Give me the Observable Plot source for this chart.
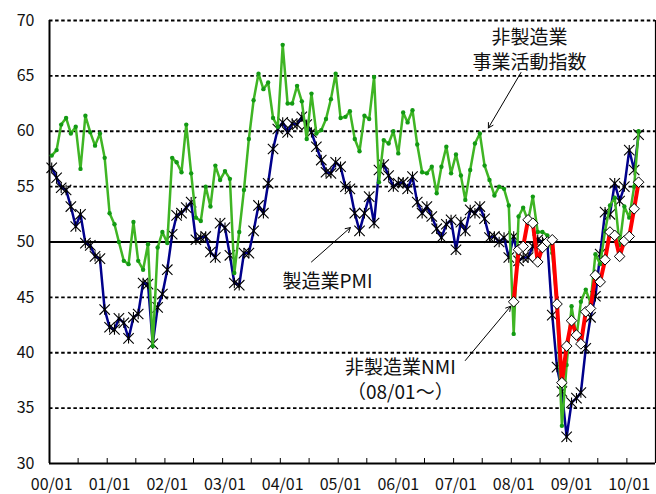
<!DOCTYPE html>
<html>
<head>
<meta charset="utf-8">
<script src="https://cdn.jsdelivr.net/npm/d3@7"></script>
<script src="https://cdn.jsdelivr.net/npm/@observablehq/plot@0.6"></script>
<style>
  html, body { margin: 0; padding: 0; background: #fff; }
  #chart { width: 656px; height: 494px; }
</style>
</head>
<body>
<div id="chart"></div>
<script>
// ---- Data (monthly) ----
const seriesStart = "2000-01-01";   // first month of PMI / business activity series
const nmiStart = "2008-01-01";      // first month of NMI series

// 製造業PMI (Jan 2000 – Mar 2010)
const pmi = [
  56.7, 55.8, 54.9, 54.7, 53.2, 51.4, 52.5, 49.9, 49.7, 48.7, 48.5, 43.9,
  42.3, 42.1, 43.1, 42.7, 41.3, 43.2, 43.5, 46.3, 46.2, 40.8, 44.1, 45.3,
  47.5, 50.7, 52.4, 52.6, 53.1, 53.6, 50.2, 50.4, 50.5, 49.1, 48.6, 51.7,
  51.3, 48.8, 46.3, 46.1, 49.0, 49.0, 51.0, 53.3, 52.6, 55.3, 58.4, 60.2,
  60.8, 59.9, 60.7, 60.6, 61.3, 60.6, 59.9, 58.6, 57.4, 56.3, 56.2, 57.2,
  56.8, 55.0, 54.8, 52.6, 51.0, 52.6, 54.1, 51.7, 56.5, 57.0, 56.0, 55.0,
  55.3, 55.4, 54.8, 55.9, 53.6, 52.6, 53.2, 52.3, 51.2, 50.4, 51.6, 52.0,
  49.3, 51.8, 51.0, 52.9, 52.6, 53.2, 52.1, 50.4, 50.5, 50.0, 50.4, 48.6,
  50.5, 48.3, 48.6, 48.6, 49.6, 50.2, 50.0, 49.9, 43.4, 38.7, 36.5, 32.4,
  35.5, 35.9, 36.4, 40.4, 43.2, 45.1, 48.9, 52.7, 52.5, 55.3, 53.7, 55.0,
  58.3, 56.5, 59.7
];

// 非製造業 事業活動指数 (Jan 2000 – Mar 2010)
const nonmfgActivity = [
  57.8, 58.3, 60.6, 61.2, 59.8, 60.4, 56.6, 61.4, 59.9, 58.7, 59.8, 57.6,
  52.6, 51.6, 50.0, 48.3, 48.0, 51.8, 48.3, 47.5, 49.8, 40.6, 49.5, 50.9,
  49.9, 57.6, 57.2, 56.3, 60.6, 56.2, 52.2, 51.9, 55.0, 53.2, 56.9, 55.6,
  56.4, 55.7, 47.2, 50.9, 54.7, 59.3, 62.8, 65.2, 63.8, 64.4, 61.2, 60.4,
  67.8, 62.5, 62.5, 64.1, 62.7, 59.3, 63.4, 59.8, 60.1, 61.1, 62.9, 65.2,
  61.2, 61.3, 61.8, 59.3, 58.2, 61.4, 61.1, 64.9, 55.4, 59.2, 58.9, 60.0,
  58.0, 61.7, 60.8, 61.9, 58.8, 56.3, 56.2, 56.8, 54.4, 56.8, 58.6, 56.2,
  57.9, 56.0, 53.8, 56.5, 58.9, 59.8, 56.9, 55.6, 54.2, 55.0, 54.8, 53.3,
  41.7, 52.3, 53.1, 51.9, 54.1, 50.9, 50.9, 50.6, 49.0, 44.2, 33.4, 38.9,
  44.2, 41.4, 44.6, 45.7, 44.5, 48.9, 48.0, 51.0, 53.3, 54.0, 49.7, 53.2,
  52.2, 55.0, 60.0
];

// 非製造業NMI (Jan 2008 – Mar 2010)
const nmi = [
  44.6, 49.3, 49.6, 52.0, 51.7, 48.2, 49.5, 50.0, 50.2, 44.4, 37.3, 40.6,
  42.9, 41.6, 40.8, 43.7, 44.0, 47.0, 46.4, 48.4, 50.9, 50.6, 48.7, 50.1,
  50.5, 53.0, 55.4
];

// Axis
const xDomain = ["1999-12-18", "2010-06-16"];
const yTicks = [30, 35, 40, 45, 50, 55, 60, 65, 70];
const dashedGrid = [35, 40, 45, 55, 60, 65, 70];
const solidGrid = [50];
const xLabelYears = ["2000","2001","2002","2003","2004","2005","2006","2007","2008","2009","2010"];

// Annotations (data coordinates)
const noteActivity = [{date: "2008-04-10", value: 67.5, text: "非製造業\n事業活動指数"}];
const notePmi = [{date: "2004-10-11", value: 46.4, text: "製造業PMI"}];
const noteNmi = [{date: "2006-01-14", value: 37.65, text: "非製造業NMI\n（08/01～）"}];
const arrows = [
  {d1: "2008-02-16", v1: 65.3, d2: "2007-07-25", v2: 60.3},
  {d1: "2004-07-01", v1: 48.2, d2: "2005-03-04", v2: 51.3},
  {d1: "2007-03-01", v1: 39.3, d2: "2007-12-13", v2: 44.2}
];

// ---- Build tables ----
const months = d3.utcMonths(new Date(seriesStart), d3.utcMonth.offset(new Date(seriesStart), pmi.length));
const pmiData = pmi.map((v, i) => ({date: months[i], value: v}));
const actData = nonmfgActivity.map((v, i) => ({date: months[i], value: v}));
const nmiMonths = d3.utcMonths(new Date(nmiStart), d3.utcMonth.offset(new Date(nmiStart), nmi.length));
const nmiData = nmi.map((v, i) => ({date: nmiMonths[i], value: v}));

const janDates = xLabelYears.map(y => new Date(`${y}-01-01`));
const tickMarkDates = d3.utcMonths(new Date("2000-07-01"), new Date("2010-02-01"), 6)
  .map(d => d3.utcDay.offset(d, -15));

const toDate = arr => arr.map(n => ({...n, date: new Date(n.date)}));
const arrowData = arrows.map(a => ({...a, d1: new Date(a.d1), d2: new Date(a.d2)}));

// Custom marker symbols
const starSymbol = {
  draw(context, size) {
    const s = Math.sqrt(size / Math.PI);
    context.moveTo(-s, -s); context.lineTo(s, s);
    context.moveTo(-s, s); context.lineTo(s, -s);
    context.moveTo(0, -s); context.lineTo(0, s);
  }
};
const diamondSymbol = {
  draw(context, size) {
    const s = Math.sqrt(size / Math.PI);
    context.moveTo(0, -s); context.lineTo(s, 0);
    context.lineTo(0, s); context.lineTo(-s, 0);
    context.closePath();
  }
};

const font = '"Noto Sans CJK JP", "Noto Sans", sans-serif';
const textStyle = {x: "date", y: "value", text: "text", fontSize: 19, fill: "#111", fontFamily: font};

const chart = Plot.plot({
  width: 656,
  height: 494,
  marginTop: 20,
  marginRight: 1,
  marginBottom: 31,
  marginLeft: 49,
  style: {fontFamily: font, background: "#fff", color: "#000"},
  x: {type: "utc", domain: xDomain.map(d => new Date(d))},
  y: {domain: [30, 70]},
  marks: [
    Plot.ruleY(dashedGrid, {stroke: "#000", strokeWidth: 1.8, strokeDasharray: "3.5,2.6"}),
    Plot.ruleY(solidGrid, {stroke: "#000", strokeWidth: 2}),
    Plot.ruleY([30], {stroke: "#000", strokeWidth: 2}),
    Plot.ruleX([new Date(xDomain[0])], {stroke: "#000", strokeWidth: 2}),
    Plot.ruleX([new Date(xDomain[1])], {stroke: "#000", strokeWidth: 1.2}),
    Plot.ruleX(tickMarkDates, {y1: 30, y2: 30.45, stroke: "#000", strokeWidth: 1}),
    Plot.axisY({ticks: yTicks, tickSize: 0, tickPadding: 15, fontSize: 16, fill: "#111"}),
    Plot.axisX({ticks: janDates, tickFormat: d3.utcFormat("%y/%m"), tickSize: 0, tickPadding: 15, fontSize: 16, fill: "#111"}),
    // manufacturing PMI
    Plot.line(pmiData, {x: "date", y: "value", stroke: "#00008c", strokeWidth: 2.5}),
    Plot.dot(pmiData, {x: "date", y: "value", symbol: starSymbol, r: 5.2, stroke: "#000", fill: "none", strokeWidth: 1.1}),
    // non-manufacturing business activity
    Plot.line(actData, {x: "date", y: "value", stroke: "#3fb524", strokeWidth: 2.5}),
    Plot.dot(actData, {x: "date", y: "value", r: 2.2, fill: "#139a13", stroke: "none"}),
    // NMI
    Plot.line(nmiData, {x: "date", y: "value", stroke: "#ff0000", strokeWidth: 4}),
    Plot.dot(nmiData, {x: "date", y: "value", symbol: diamondSymbol, r: 5.3, stroke: "#000", fill: "#fff", strokeWidth: 1}),
    // annotations
    Plot.arrow(arrowData, {x1: "d1", y1: "v1", x2: "d2", y2: "v2", stroke: "#000", strokeWidth: 1, headLength: 8}),
    Plot.text(toDate(noteActivity), {...textStyle, lineHeight: 1.32}),
    Plot.text(toDate(notePmi), textStyle),
    Plot.text(toDate(noteNmi), {...textStyle, lineHeight: 1.3})
  ]
});
document.getElementById("chart").appendChild(chart);
</script>
</body>
</html>
